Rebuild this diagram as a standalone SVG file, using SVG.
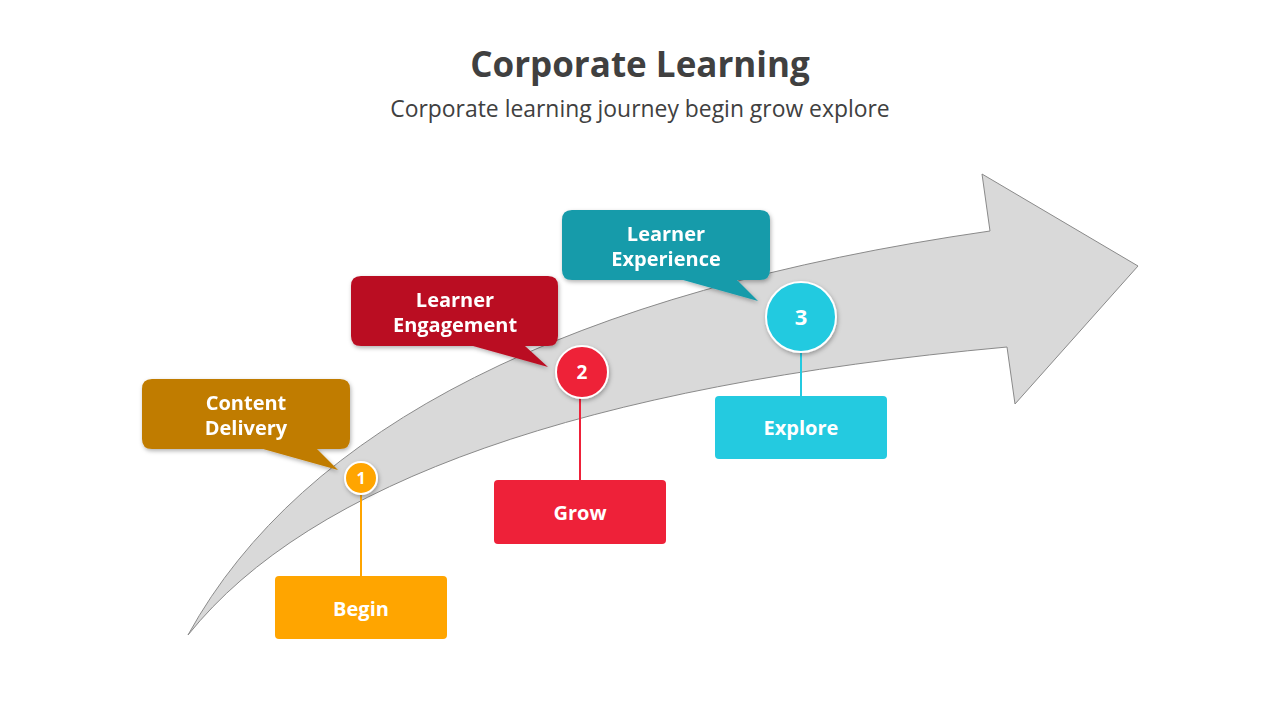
<svg xmlns="http://www.w3.org/2000/svg" width="1280" height="720" viewBox="0 0 1280 720">
<defs>
<filter id="sh" x="-20%" y="-20%" width="140%" height="150%">
<feDropShadow dx="1" dy="2" stdDeviation="2" flood-color="#000" flood-opacity="0.3"/>
</filter>
<style>
.t{font-family:"Open Sans","Noto Sans","Liberation Sans",sans-serif;}
.lbl{font-family:"Open Sans","Noto Sans","Liberation Sans",sans-serif;font-weight:bold;fill:#fff;text-anchor:middle;}
.num{stroke:#fff;stroke-width:2;}
</style>
</defs>
<rect width="1280" height="720" fill="#fff"/>
<text class="t" x="640" y="77" font-size="35" font-weight="bold" fill="#404040" text-anchor="middle">Corporate Learning</text>
<text class="t" x="640" y="117" font-size="22.9" fill="#404040" text-anchor="middle">Corporate learning journey begin grow explore</text>

<g id="arrow">
<path d="M188,635 Q360,322 990,231 L982,174 L1138,266 L1015,404 L1007,347 Q372,405 188,635 Z" fill="#d9d9d9" stroke="#8a8a8a" stroke-width="1"/>
</g>

<g id="callout1" filter="url(#sh)">
<path d="M152,379 H340 Q350,379 350,389 V439 Q350,449 340,449 H317 L338,470 L263,449 H152 Q142,449 142,439 V389 Q142,379 152,379 Z" fill="#C07C00"/>
<text class="lbl" x="246" y="410" font-size="20">Content</text>
<text class="lbl" x="246" y="435" font-size="20">Delivery</text>
</g>
<g id="callout2" filter="url(#sh)">
<path d="M361,276 H548 Q558,276 558,286 V336 Q558,346 548,346 H525 L548,367 L473,346 H361 Q351,346 351,336 V286 Q351,276 361,276 Z" fill="#BA0F22"/>
<text class="lbl" x="455" y="307" font-size="20">Learner</text>
<text class="lbl" x="455" y="332" font-size="20">Engagement</text>
</g>
<g id="callout3" filter="url(#sh)">
<path d="M572,210 H760 Q770,210 770,220 V270 Q770,280 760,280 H737 L758,301 L683,280 H572 Q562,280 562,270 V220 Q562,210 572,210 Z" fill="#199BAA"/>
<text class="lbl" x="666" y="241" font-size="20">Learner</text>
<text class="lbl" x="666" y="266" font-size="20">Experience</text>
</g>

<g id="connectors" stroke-width="2">
<line x1="361" y1="494" x2="361" y2="576" stroke="#FFA500"/>
<line x1="580" y1="398" x2="580" y2="480" stroke="#EE2139"/>
<line x1="801" y1="352" x2="801" y2="396" stroke="#24CAE0"/>
</g>

<g id="step1">
<circle class="num" cx="361" cy="478" r="16" fill="#FFA500" filter="url(#sh)"/>
<text class="lbl" x="361" y="484" font-size="16">1</text>
</g>
<g id="step2">
<circle class="num" cx="582" cy="372" r="26" fill="#EE2139" filter="url(#sh)"/>
<text class="lbl" x="582" y="379" font-size="19">2</text>
</g>
<g id="step3">
<circle class="num" cx="801" cy="317" r="35" fill="#24CAE0" filter="url(#sh)"/>
<text class="lbl" x="801" y="325" font-size="22">3</text>
</g>

<g id="begin">
<rect x="275" y="576" width="172" height="63" rx="4" fill="#FFA500"/>
<text class="lbl" x="361" y="616" font-size="20">Begin</text>
</g>
<g id="grow">
<rect x="494" y="480" width="172" height="64" rx="4" fill="#EE2139"/>
<text class="lbl" x="580" y="520" font-size="20">Grow</text>
</g>
<g id="explore">
<rect x="715" y="396" width="172" height="63" rx="4" fill="#24CAE0"/>
<text class="lbl" x="801" y="435" font-size="20">Explore</text>
</g>
</svg>
